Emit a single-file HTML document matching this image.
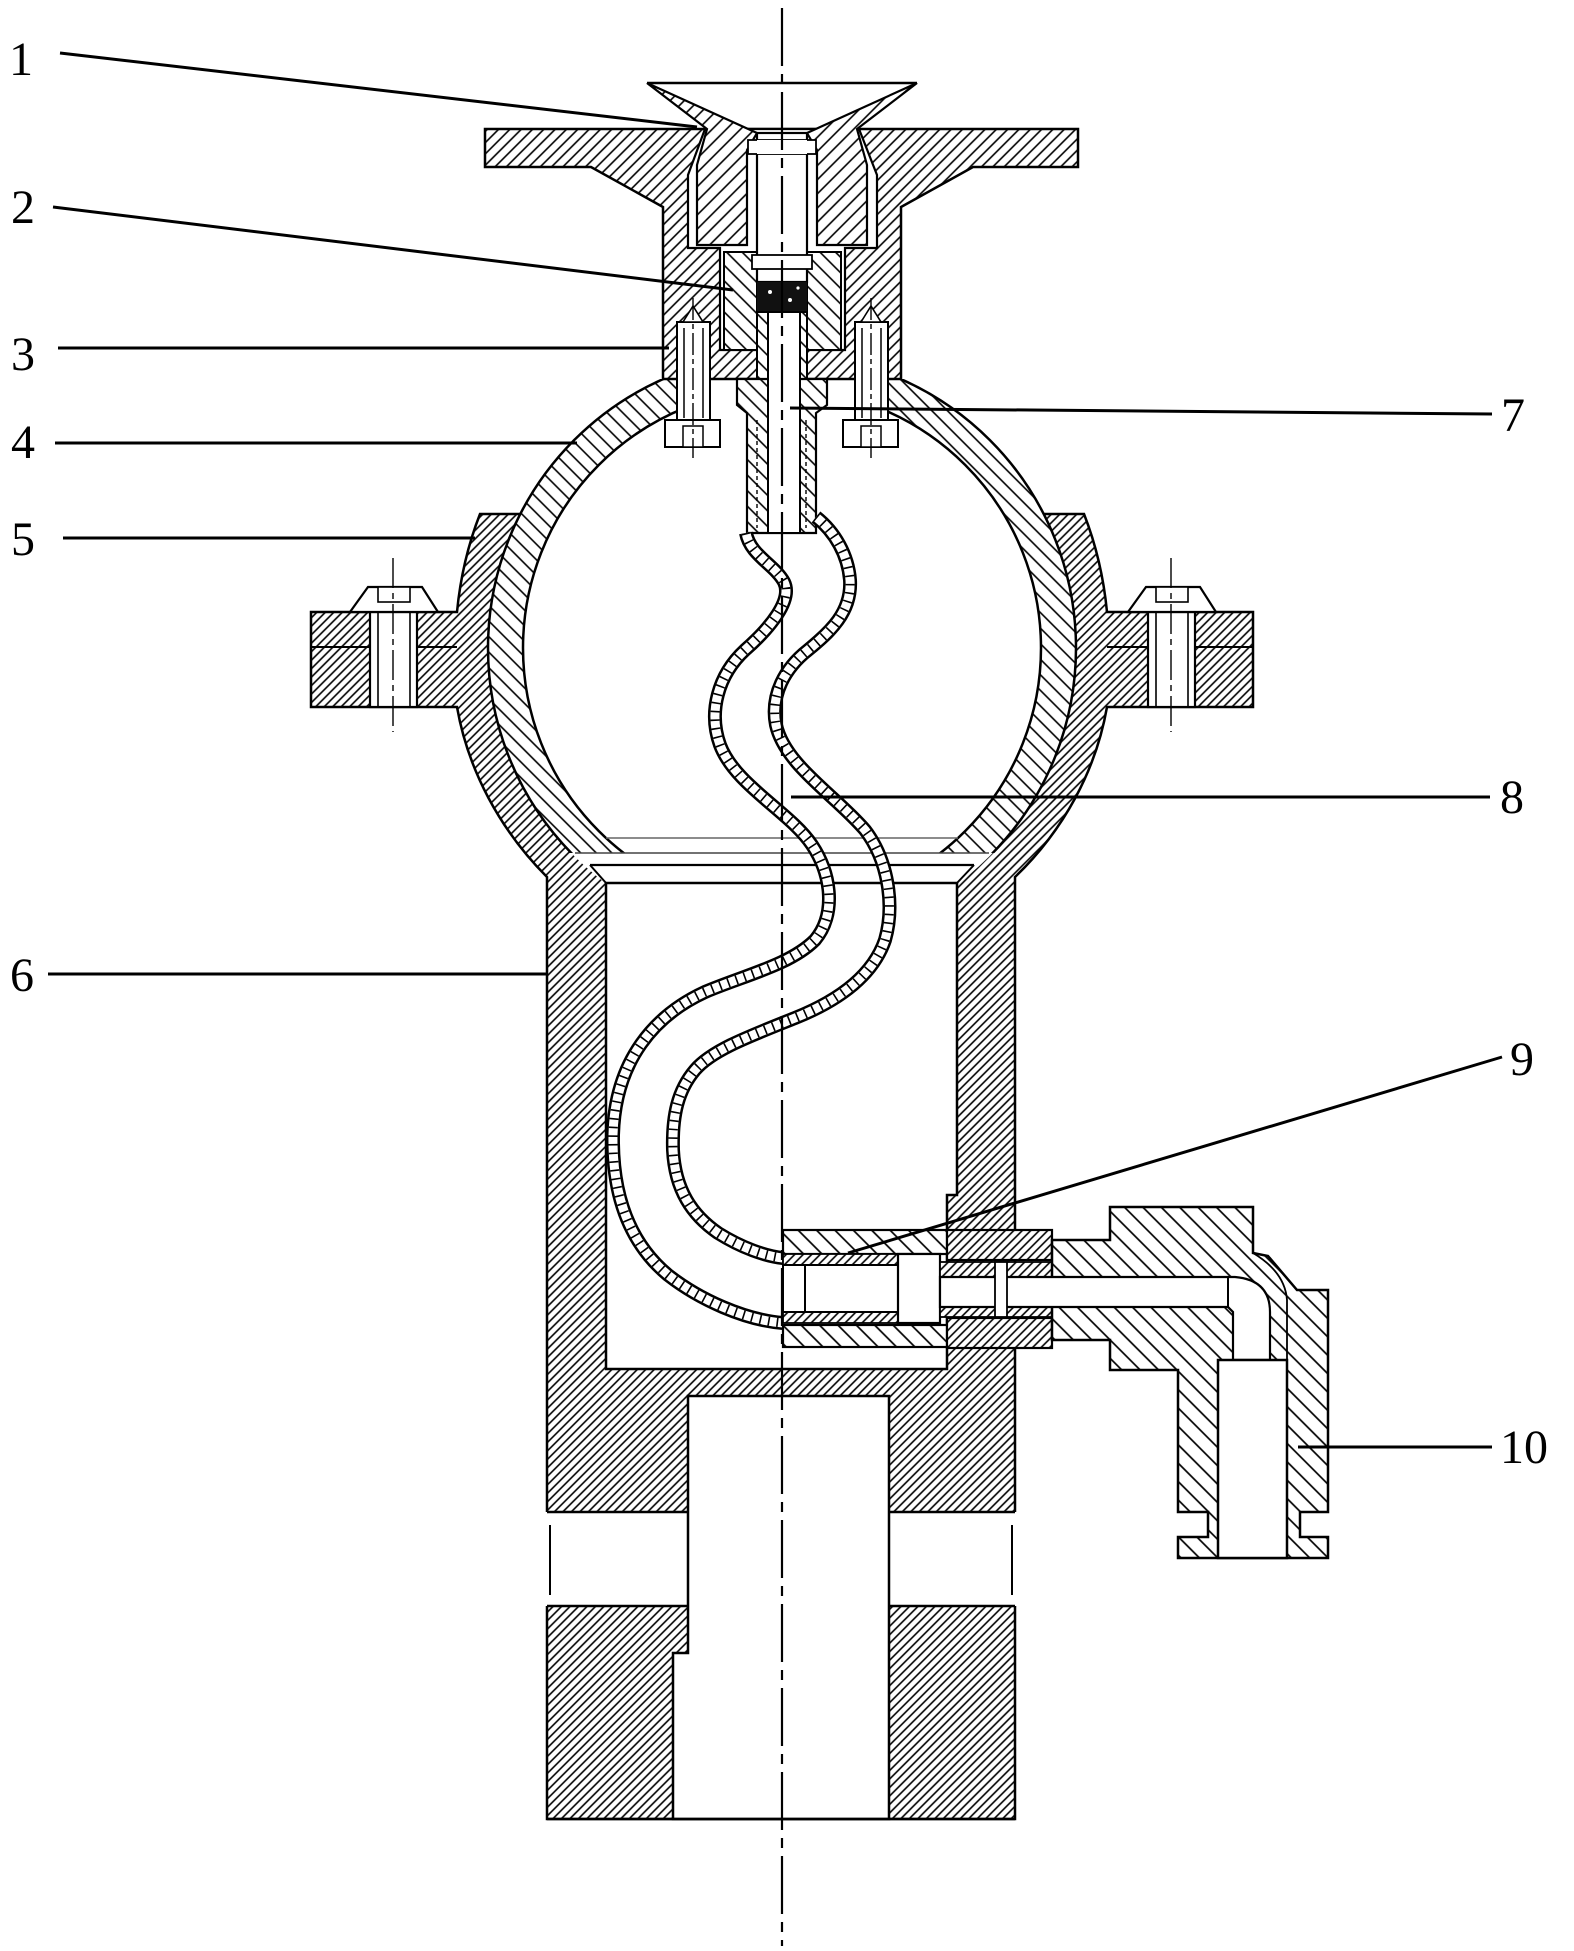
<!DOCTYPE html>
<html>
<head>
<meta charset="utf-8">
<style>
  html,body{margin:0;padding:0;background:#fff;}
  svg{display:block;}
</style>
</head>
<body>
<svg width="1574" height="1951" viewBox="0 0 1574 1951" xmlns="http://www.w3.org/2000/svg">
<defs>
  <pattern id="pA" width="6" height="6" patternUnits="userSpaceOnUse" patternTransform="rotate(45)">
    <rect width="6" height="6" fill="#fff"/>
    <line x1="3" y1="0" x2="3" y2="6" stroke="#000" stroke-width="1.6"/>
  </pattern>
  <pattern id="pB" width="8" height="8" patternUnits="userSpaceOnUse" patternTransform="rotate(45)">
    <rect width="8" height="8" fill="#fff"/>
    <line x1="4" y1="0" x2="4" y2="8" stroke="#000" stroke-width="1.6"/>
  </pattern>
  <pattern id="pC" width="11" height="11" patternUnits="userSpaceOnUse" patternTransform="rotate(-45)">
    <rect width="11" height="11" fill="#fff"/>
    <line x1="5.5" y1="0" x2="5.5" y2="11" stroke="#000" stroke-width="1.6"/>
  </pattern>
  <pattern id="pD" width="10" height="10" patternUnits="userSpaceOnUse" patternTransform="rotate(45)">
    <rect width="10" height="10" fill="#fff"/>
    <line x1="5" y1="0" x2="5" y2="10" stroke="#000" stroke-width="1.6"/>
  </pattern>
  <pattern id="pE" width="13" height="13" patternUnits="userSpaceOnUse" patternTransform="rotate(-45)">
    <rect width="13" height="13" fill="#fff"/>
    <line x1="6.5" y1="0" x2="6.5" y2="13" stroke="#000" stroke-width="1.7"/>
  </pattern>
  <clipPath id="ballClip">
    <path d="M0,379 L677,379 L677,440 L887,440 L887,379 L1574,379 L1574,853 L0,853 Z"/>
  </clipPath>
</defs>

<g stroke-linejoin="miter" stroke-linecap="butt">

<!-- Housing 5 + body 6 silhouette -->
<path d="M480,514 L1084,514 Q1102,560 1107,612 L1253,612 L1253,707 L1107,707 C1096,770 1064,830 1015,877 L1015,1819 L547,1819 L547,877 C500,830 468,770 457,707 L311,707 L311,612 L457,612 Q462,560 480,514 Z" fill="url(#pA)" stroke="#000" stroke-width="2.5"/>
<line x1="311" y1="647" x2="457" y2="647" stroke="#000" stroke-width="2"/>
<line x1="1107" y1="647" x2="1253" y2="647" stroke="#000" stroke-width="2"/>

<!-- cup interior white -->
<circle cx="782" cy="648" r="294" fill="#fff"/>
<path d="M575,853 L590,865 L606,883 L957,883 L974,865 L989,853 Z" fill="#fff"/>

<!-- ball ring -->
<g clip-path="url(#ballClip)">
  <circle cx="782" cy="648" r="276.5" fill="none" stroke="url(#pC)" stroke-width="35"/>
  <circle cx="782" cy="648" r="294" fill="none" stroke="#000" stroke-width="2.5"/>
  <circle cx="782" cy="648" r="259" fill="none" stroke="#000" stroke-width="2.5"/>
</g>
<line x1="575" y1="853" x2="989" y2="853" stroke="#444" stroke-width="1.6"/>
<line x1="606" y1="838" x2="958" y2="838" stroke="#666" stroke-width="1.4"/>
<line x1="590" y1="865" x2="974" y2="865" stroke="#000" stroke-width="2.2"/>
<line x1="590" y1="865" x2="606" y2="883" stroke="#000" stroke-width="2"/>
<line x1="974" y1="865" x2="957" y2="883" stroke="#000" stroke-width="2"/>

<!-- housing flange bolts -->
<g stroke="#000" fill="#fff">
  <rect x="370" y="612" width="47" height="95" stroke-width="2.2"/>
  <line x1="378" y1="612" x2="378" y2="707" stroke-width="1.6"/>
  <line x1="410" y1="612" x2="410" y2="707" stroke-width="1.6"/>
  <path d="M350,612 L368,587 L422,587 L438,612 Z" stroke-width="2.2"/>
  <rect x="378" y="587" width="32" height="15" stroke-width="1.6"/>
  <line x1="393" y1="558" x2="393" y2="732" stroke-width="1.4" stroke-dasharray="30 5 6 5"/>

  <rect x="1148" y="612" width="47" height="95" stroke-width="2.2"/>
  <line x1="1156" y1="612" x2="1156" y2="707" stroke-width="1.6"/>
  <line x1="1188" y1="612" x2="1188" y2="707" stroke-width="1.6"/>
  <path d="M1128,612 L1146,587 L1200,587 L1216,612 Z" stroke-width="2.2"/>
  <rect x="1156" y="587" width="32" height="15" stroke-width="1.6"/>
  <line x1="1171" y1="558" x2="1171" y2="732" stroke-width="1.4" stroke-dasharray="30 5 6 5"/>
</g>

<!-- body cavity -->
<path d="M606,883 L957,883 L957,1195 L947,1195 L947,1369 L606,1369 Z" fill="#fff" stroke="#000" stroke-width="2.5"/>

<!-- bands -->
<rect x="545" y="1512" width="142" height="94" fill="#fff"/>
<rect x="890" y="1512" width="127" height="94" fill="#fff"/>
<g stroke="#000" stroke-width="2.4">
  <line x1="547" y1="1512" x2="688" y2="1512"/>
  <line x1="547" y1="1606" x2="688" y2="1606"/>
  <line x1="889" y1="1512" x2="1015" y2="1512"/>
  <line x1="889" y1="1606" x2="1015" y2="1606"/>
  <line x1="550" y1="1525" x2="550" y2="1595" stroke-width="2"/>
  <line x1="1012" y1="1525" x2="1012" y2="1595" stroke-width="2"/>
  <line x1="885" y1="1535" x2="885" y2="1590" stroke-width="1.6"/>
</g>
<!-- bottom bore -->
<path d="M688,1396 L889,1396 L889,1819 L673,1819 L673,1653 L688,1653 Z" fill="#fff" stroke="#000" stroke-width="2.5"/>
<line x1="547" y1="1819" x2="1015" y2="1819" stroke="#000" stroke-width="2.5"/>

<!-- upper housing (flange + neck) -->
<path d="M485,129 L1078,129 L1078,167 L973,167 L901,207 L901,379 L663,379 L663,207 L591,167 L485,167 Z" fill="url(#pB)" stroke="#000" stroke-width="2.5"/>
<path d="M705,129 L859,129 L877,175 L877,248 L845,248 L845,350 L720,350 L720,248 L688,248 L688,175 Z" fill="#fff" stroke="#000" stroke-width="2.2"/>

<!-- funnel / inserts (part 1) -->
<path d="M647,83 L757,133 L747,150 L747,245 L697,245 L697,165 L707,129 Z" fill="url(#pD)" stroke="#000" stroke-width="2.2"/>
<path d="M917,83 L807,133 L817,150 L817,245 L867,245 L867,165 L857,129 Z" fill="url(#pD)" stroke="#000" stroke-width="2.2"/>
<line x1="647" y1="83" x2="917" y2="83" stroke="#000" stroke-width="2.4"/>

<!-- bushing 2 -->
<rect x="724" y="252" width="33" height="98" fill="url(#pC)" stroke="#000" stroke-width="2"/>
<rect x="807" y="252" width="34" height="98" fill="url(#pC)" stroke="#000" stroke-width="2"/>

<!-- central bore / pin -->
<rect x="757" y="133" width="50" height="149" fill="#fff" stroke="#000" stroke-width="2.2"/>
<rect x="748" y="140" width="68" height="14" fill="#fff" stroke="#000" stroke-width="1.8"/>
<rect x="757" y="140" width="50" height="14" fill="#fff" stroke="none"/>
<rect x="752" y="255" width="60" height="14" fill="#fff" stroke="#000" stroke-width="1.8"/>
<!-- seal -->
<rect x="757" y="282" width="50" height="30" fill="#111"/>
<circle cx="770" cy="292" r="2" fill="#fff"/>
<circle cx="790" cy="300" r="2" fill="#fff"/>
<circle cx="798" cy="288" r="1.6" fill="#fff"/>

<!-- part 7 connector -->
<rect x="757" y="312" width="50" height="67" fill="url(#pC)" stroke="#000" stroke-width="2"/>
<path d="M737,379 L827,379 L827,405 L816,413 L816,533 L747,533 L747,413 L737,405 Z" fill="url(#pC)" stroke="#000" stroke-width="2.2"/>
<rect x="768" y="312" width="32" height="221" fill="#fff" stroke="#000" stroke-width="2"/>
<line x1="757" y1="420" x2="757" y2="528" stroke="#000" stroke-width="1.4" stroke-dasharray="4 3"/>
<line x1="806" y1="420" x2="806" y2="528" stroke="#000" stroke-width="1.4" stroke-dasharray="4 3"/>

<!-- neck bolts (3) -->
<g stroke="#000" fill="#fff">
  <rect x="677" y="322" width="33" height="98" stroke-width="2"/>
  <line x1="684" y1="328" x2="684" y2="418" stroke-width="1.5"/>
  <line x1="703" y1="328" x2="703" y2="418" stroke-width="1.5"/>
  <path d="M683,322 L693,306 L703,322 Z" stroke-width="1.6"/>
  <rect x="665" y="420" width="55" height="27" stroke-width="2"/>
  <rect x="683" y="426" width="20" height="21" stroke-width="1.5"/>
  <line x1="693" y1="298" x2="693" y2="458" stroke-width="1.4" stroke-dasharray="22 4 5 4"/>

  <rect x="855" y="322" width="33" height="98" stroke-width="2"/>
  <line x1="862" y1="328" x2="862" y2="418" stroke-width="1.5"/>
  <line x1="881" y1="328" x2="881" y2="418" stroke-width="1.5"/>
  <path d="M861,322 L871,306 L881,322 Z" stroke-width="1.6"/>
  <rect x="843" y="420" width="55" height="27" stroke-width="2"/>
  <rect x="861" y="426" width="20" height="21" stroke-width="1.5"/>
  <line x1="871" y1="298" x2="871" y2="458" stroke-width="1.4" stroke-dasharray="22 4 5 4"/>
</g>

<!-- hose (8) -->
<g fill="none" stroke-linecap="butt">
  <path id="hA" d="M746,533 C750,555 775,565 784,582 C793,600 770,628 745,650 C718,675 708,712 720,745 C735,785 790,812 812,845 C832,875 836,915 815,940 C790,965 745,975 705,992 C655,1015 615,1060 613,1135 C612,1200 632,1245 668,1275 C700,1300 745,1320 783,1323" stroke="#000" stroke-width="14"/>
  <path d="M746,533 C750,555 775,565 784,582 C793,600 770,628 745,650 C718,675 708,712 720,745 C735,785 790,812 812,845 C832,875 836,915 815,940 C790,965 745,975 705,992 C655,1015 615,1060 613,1135 C612,1200 632,1245 668,1275 C700,1300 745,1320 783,1323" stroke="#fff" stroke-width="9"/>
  <path d="M746,533 C750,555 775,565 784,582 C793,600 770,628 745,650 C718,675 708,712 720,745 C735,785 790,812 812,845 C832,875 836,915 815,940 C790,965 745,975 705,992 C655,1015 615,1060 613,1135 C612,1200 632,1245 668,1275 C700,1300 745,1320 783,1323" stroke="#000" stroke-width="9" stroke-dasharray="1.6 7"/>

  <path d="M816,517 C835,532 848,555 850,580 C852,612 830,632 808,650 C785,668 770,695 776,725 C785,765 835,795 865,830 C888,860 895,905 885,940 C873,975 840,1000 795,1018 C750,1036 712,1050 695,1070 C678,1090 672,1115 673,1150 C675,1190 692,1215 718,1233 C742,1248 765,1256 783,1258" stroke="#000" stroke-width="14"/>
  <path d="M816,517 C835,532 848,555 850,580 C852,612 830,632 808,650 C785,668 770,695 776,725 C785,765 835,795 865,830 C888,860 895,905 885,940 C873,975 840,1000 795,1018 C750,1036 712,1050 695,1070 C678,1090 672,1115 673,1150 C675,1190 692,1215 718,1233 C742,1248 765,1256 783,1258" stroke="#fff" stroke-width="9"/>
  <path d="M816,517 C835,532 848,555 850,580 C852,612 830,632 808,650 C785,668 770,695 776,725 C785,765 835,795 865,830 C888,860 895,905 885,940 C873,975 840,1000 795,1018 C750,1036 712,1050 695,1070 C678,1090 672,1115 673,1150 C675,1190 692,1215 718,1233 C742,1248 765,1256 783,1258" stroke="#000" stroke-width="9" stroke-dasharray="1.6 7"/>
</g>

<!-- part 9 tube connector -->
<rect x="783" y="1230" width="164" height="24" fill="url(#pE)" stroke="#000" stroke-width="2.2"/>
<rect x="783" y="1325" width="164" height="22" fill="url(#pE)" stroke="#000" stroke-width="2.2"/>
<rect x="783" y="1254" width="115" height="11" fill="url(#pA)" stroke="#000" stroke-width="1.8"/>
<rect x="783" y="1312" width="115" height="11" fill="url(#pA)" stroke="#000" stroke-width="1.8"/>
<rect x="783" y="1265" width="115" height="47" fill="#fff" stroke="#000" stroke-width="2"/>
<line x1="805" y1="1265" x2="805" y2="1312" stroke="#000" stroke-width="2"/>
<rect x="898" y="1254" width="42" height="69" fill="#fff" stroke="#000" stroke-width="2.2"/>

<!-- fitting flange blocks -->
<rect x="947" y="1230" width="105" height="30" fill="url(#pA)" stroke="#000" stroke-width="2.2"/>
<rect x="947" y="1318" width="105" height="30" fill="url(#pA)" stroke="#000" stroke-width="2.2"/>
<!-- rod -->
<rect x="940" y="1262" width="112" height="55" fill="url(#pA)" stroke="#000" stroke-width="1.8"/>

<!-- fitting body 10 -->
<path d="M1052,1240 L1110,1240 L1110,1207 L1253,1207 L1253,1253 L1268,1256 L1297,1290 L1328,1290 L1328,1512 L1300,1512 L1300,1537 L1328,1537 L1328,1558 L1178,1558 L1178,1537 L1208,1537 L1208,1512 L1178,1512 L1178,1370 L1110,1370 L1110,1340 L1052,1340 Z" fill="url(#pE)" stroke="#000" stroke-width="2.5"/>
<path d="M940,1277 L1235,1277 Q1270,1280 1270,1312 L1270,1360 L1233,1360 L1233,1312 L1228,1307 L940,1307 Z" fill="#fff" stroke="#000" stroke-width="2.2"/>
<line x1="1228" y1="1277" x2="1228" y2="1307" stroke="#000" stroke-width="2"/>
<rect x="995" y="1262" width="12" height="55" fill="#fff" stroke="#000" stroke-width="1.8"/>
<rect x="1218" y="1360" width="69" height="198" fill="#fff" stroke="#000" stroke-width="2.5"/>
<path d="M1253,1253 Q1285,1272 1287,1300 L1287,1360" fill="none" stroke="#000" stroke-width="1.8"/>

<!-- centerline -->
<line x1="782" y1="8" x2="782" y2="1946" stroke="#000" stroke-width="2.2" stroke-dasharray="58 8 10 8"/>

<!-- leader lines -->
<g stroke="#000" stroke-width="3" fill="none">
  <line x1="60" y1="53" x2="697" y2="127"/>
  <line x1="53" y1="207" x2="733" y2="290"/>
  <line x1="58" y1="348" x2="669" y2="348"/>
  <line x1="55" y1="443" x2="577" y2="443"/>
  <line x1="63" y1="538" x2="475" y2="538"/>
  <line x1="48" y1="974" x2="547" y2="974"/>
  <line x1="790" y1="408" x2="1492" y2="414"/>
  <line x1="791" y1="797" x2="1490" y2="797"/>
  <line x1="848" y1="1253" x2="1502" y2="1057"/>
  <line x1="1298" y1="1447" x2="1492" y2="1447"/>
</g>

<!-- labels -->
<g font-family="'Liberation Serif', 'Times New Roman', serif" font-size="48" fill="#000">
  <text x="9" y="75">1</text>
  <text x="11" y="223">2</text>
  <text x="11" y="370">3</text>
  <text x="11" y="458">4</text>
  <text x="11" y="555">5</text>
  <text x="10" y="991">6</text>
  <text x="1501" y="431">7</text>
  <text x="1500" y="813">8</text>
  <text x="1510" y="1075">9</text>
  <text x="1500" y="1463">10</text>
</g>

</g>
</svg>
</body>
</html>
